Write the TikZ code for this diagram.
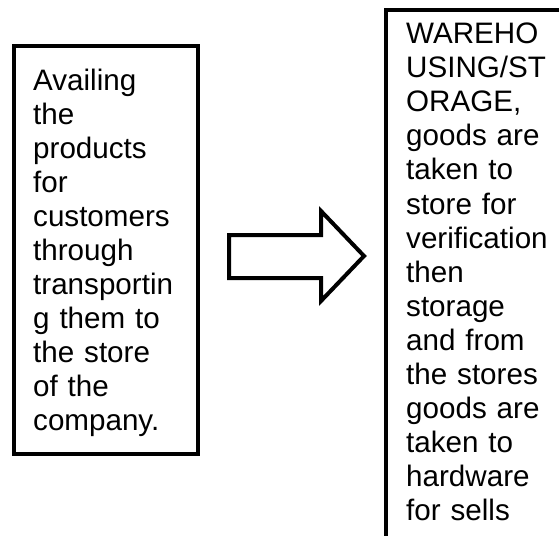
\documentclass[tikz,border=0pt]{standalone}
\usepackage{fontspec}
\setmainfont{Liberation Sans}
\begin{document}
\begin{tikzpicture}[x=1pt,y=-1pt,
  boxframe/.style={draw=black,line width=4pt,line join=miter},
  boxtext/.style={anchor=base west,inner sep=0pt,text width=180pt,align=left,
    font=\fontsize{29.6}{34}\selectfont}]
\useasboundingbox (0,0) rectangle (559,535);
\fill[white] (0,0) rectangle (559,535);
\clip (0,0) rectangle (559,535);
% left box
\node[boxframe,anchor=north west,minimum width=184pt,minimum height=408pt,inner sep=0pt] (L) at (12,44) {};
\node[boxtext] (Lt) at (33,90) {Availing\\the\\products\\for\\customers\\through\\transportin\\g them to\\the store\\of the\\company.};
% right box (cut by picture edge)
\node[boxframe,anchor=north west,minimum width=260pt,minimum height=600pt,inner sep=0pt] (R) at (384,8) {};
\node[boxtext] (Rt) at (406,44) {WAREHO\\USING/ST\\ORAGE,\\goods are\\taken to\\store for\\verification\\then\\storage\\and from\\the stores\\goods are\\taken to\\hardware\\for sells};
% block arrow
\draw[boxframe] (229,235) -- (321,235) -- (321,211) -- (364,256) -- (321,301) -- (321,278) -- (229,278) -- cycle;
\end{tikzpicture}
\end{document}
